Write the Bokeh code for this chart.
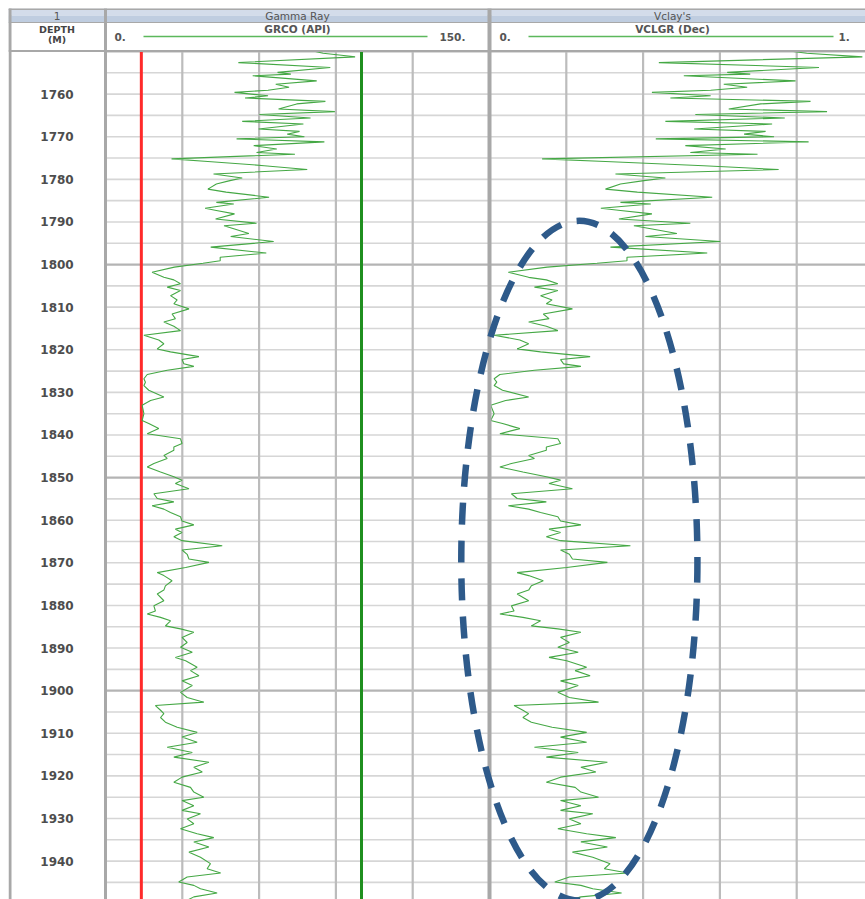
from bokeh.plotting import figure
from bokeh.models import Range1d
from bokeh.embed import file_html
from bokeh.resources import INLINE
from bokeh.core.properties import value

# ---------------- data ----------------
depth_m = [
    1750.0, 1750.4, 1751.25, 1752.6, 1753.75, 1754.9, 1755.3, 1755.7, 1756.9, 1757.7,
    1758.4, 1759.1, 1759.6, 1760.4, 1760.9, 1761.7, 1762.3, 1763.5, 1764.1, 1764.8,
    1765.6, 1766.4, 1767.0, 1768.2, 1768.75, 1769.4, 1770.0, 1770.5, 1771.2, 1772.1,
    1772.9, 1773.7, 1774.1, 1775.2, 1775.8, 1776.8, 1777.7, 1778.75, 1779.7, 1780.3,
    1781.1, 1782.3, 1783.0, 1784.2, 1785.4, 1785.8, 1786.8, 1787.3, 1788.1, 1789.3,
    1790.3, 1790.9, 1791.6, 1792.7, 1793.4, 1794.6, 1795.9, 1797.3, 1798.3, 1799.1,
    1799.7, 1800.6, 1801.8,
    1803.0, 1803.6, 1804.5, 1805.3, 1806.1, 1807.3, 1808.3, 1809.2, 1810.4, 1811.6,
    1812.7, 1813.5, 1814.5, 1815.5, 1816.6, 1817.7, 1818.6, 1819.8, 1820.5, 1821.6,
    1822.3, 1823.3, 1823.9, 1824.8, 1825.8, 1826.8, 1827.6, 1828.4, 1829.5, 1831.1,
    1831.9, 1833.0, 1835.0, 1836.6, 1837.3, 1838.5, 1839.7, 1840.9, 1842.0, 1842.8,
    1843.6, 1844.8, 1845.5, 1846.7, 1847.5, 1848.7, 1849.8, 1850.6, 1851.4, 1852.6,
    1853.8, 1854.9, 1855.7,
    1856.6, 1857.4, 1858.2, 1859.2, 1860.2, 1861.1, 1862.1, 1862.9, 1863.9, 1864.8,
    1866.0, 1867.0, 1868.0, 1869.1, 1869.9, 1871.1, 1872.3, 1873.0, 1874.2, 1875.4,
    1876.4, 1877.3, 1878.9, 1880.1, 1881.3, 1882.0, 1882.8, 1883.6, 1884.8, 1885.5,
    1886.3, 1887.5, 1888.7, 1889.8, 1891.0, 1892.2, 1893.0, 1894.5, 1895.3, 1896.5,
    1897.7, 1898.8, 1900.4, 1901.6, 1902.7, 1903.5, 1904.6,
    1905.4, 1906.3, 1907.4, 1908.6, 1909.8, 1910.9, 1912.1, 1913.3, 1914.5, 1915.6,
    1916.8, 1918.0, 1919.1, 1920.3, 1921.5, 1922.7, 1923.8, 1925.0, 1925.8, 1927.0,
    1928.1, 1928.9, 1930.1, 1931.25, 1932.4, 1933.6, 1934.5, 1935.5, 1936.7, 1937.9,
    1939.1, 1940.6, 1941.8, 1942.8, 1943.75, 1944.9, 1945.7, 1946.5, 1947.5, 1948.4,
    1949.2,
]

grco_api = [
    82.0, 85.0, 97.5, 51.9, 87.8, 67.2, 72.4, 57.5, 82.5, 66.5,
    71.7, 63.5, 50.4, 63.5, 54.5, 85.9, 74.7, 67.6, 89.6, 60.1,
    80.1, 53.4, 77.3, 59.8, 75.8, 71.0, 77.7, 51.2, 85.5, 57.9,
    66.9, 59.0, 74.0, 25.8, 40.0, 62.0, 78.8, 42.2, 53.4, 48.6,
    43.3, 40.0, 47.1, 63.9, 43.3, 50.1, 38.9, 43.3, 50.4, 43.0,
    59.0, 46.3, 50.1, 56.0, 48.9, 65.7, 41.1, 62.8, 44.8, 44.8,
    38.1, 26.9, 18.2,
    22.8, 26.7, 29.3, 24.1, 29.3, 25.4, 28.0, 26.7, 32.6, 26.0,
    27.3, 22.8, 26.7, 29.3, 15.0, 20.8, 22.8, 20.2, 25.4, 36.5,
    29.9, 30.6, 34.5, 24.1, 16.3, 15.0, 15.6, 15.0, 16.9, 22.8,
    17.6, 14.3, 15.0, 14.3, 16.9, 20.8, 16.3, 29.3, 29.9, 26.7,
    26.7, 22.8, 24.1, 18.9, 16.3, 21.5, 26.7, 29.9, 27.3, 32.6,
    18.9, 20.2, 26.7,
    18.2, 22.8, 25.4, 29.3, 29.9, 34.5, 27.3, 29.9, 26.7, 29.9,
    45.6, 29.9, 31.9, 32.6, 40.4, 31.3, 20.2, 22.8, 26.0, 23.4,
    22.8, 20.2, 22.8, 18.9, 19.5, 16.3, 21.5, 25.4, 23.4, 29.3,
    34.5, 29.9, 31.9, 29.3, 33.9, 27.3, 31.3, 35.8, 33.2, 36.5,
    29.9, 33.9, 29.3, 31.9, 38.4, 19.5, 21.5,
    22.8, 21.5, 23.4, 28.0, 35.8, 29.9, 35.8, 24.1, 33.9, 26.7,
    40.4, 34.5, 37.8, 29.9, 26.7, 33.2, 34.5, 38.4, 29.9, 34.5,
    29.9, 37.1, 31.9, 34.5, 29.3, 35.8, 42.3, 34.5, 40.4, 32.6,
    37.1, 41.0, 39.7, 45.0, 31.9, 28.6, 34.5, 37.1, 43.6, 34.5,
    31.9,
]

vclgr_dec = [
    0.791, 0.826, 0.971, 0.441, 0.858, 0.619, 0.679, 0.506, 0.797, 0.610,
    0.671, 0.576, 0.423, 0.576, 0.471, 0.836, 0.706, 0.623, 0.879, 0.536,
    0.769, 0.458, 0.736, 0.533, 0.719, 0.663, 0.741, 0.433, 0.831, 0.510,
    0.615, 0.523, 0.698, 0.137, 0.302, 0.558, 0.753, 0.328, 0.458, 0.402,
    0.341, 0.302, 0.385, 0.580, 0.341, 0.420, 0.290, 0.341, 0.423, 0.337,
    0.523, 0.376, 0.420, 0.488, 0.406, 0.601, 0.315, 0.567, 0.358, 0.358,
    0.280, 0.150, 0.049,
    0.102, 0.148, 0.178, 0.117, 0.178, 0.133, 0.163, 0.148, 0.216, 0.140,
    0.155, 0.102, 0.148, 0.178, 0.012, 0.079, 0.102, 0.072, 0.133, 0.262,
    0.185, 0.193, 0.238, 0.117, 0.027, 0.012, 0.019, 0.012, 0.034, 0.102,
    0.042, 0.003, 0.012, 0.003, 0.034, 0.079, 0.027, 0.178, 0.185, 0.148,
    0.148, 0.102, 0.117, 0.057, 0.027, 0.087, 0.148, 0.185, 0.155, 0.216,
    0.057, 0.072, 0.148,
    0.049, 0.102, 0.133, 0.178, 0.185, 0.238, 0.155, 0.185, 0.148, 0.185,
    0.367, 0.185, 0.208, 0.216, 0.307, 0.201, 0.072, 0.102, 0.140, 0.109,
    0.102, 0.072, 0.102, 0.057, 0.064, 0.027, 0.087, 0.133, 0.109, 0.178,
    0.238, 0.185, 0.208, 0.178, 0.231, 0.155, 0.201, 0.253, 0.223, 0.262,
    0.185, 0.231, 0.178, 0.208, 0.284, 0.064, 0.087,
    0.102, 0.087, 0.109, 0.163, 0.253, 0.185, 0.253, 0.117, 0.231, 0.148,
    0.307, 0.238, 0.277, 0.185, 0.148, 0.223, 0.238, 0.284, 0.185, 0.238,
    0.185, 0.269, 0.208, 0.238, 0.178, 0.253, 0.329, 0.238, 0.307, 0.216,
    0.269, 0.314, 0.299, 0.360, 0.208, 0.170, 0.238, 0.269, 0.344, 0.238,
    0.208,
]

depth_labels = [1760, 1770, 1780, 1790, 1800, 1810, 1820, 1830, 1840, 1850,
                1860, 1870, 1880, 1890, 1900, 1910, 1920, 1930, 1940]
track_titles = ["1", "Gamma Ray", "Vclay's"]
curve_names = ["GRCO (API)", "VCLGR (Dec)"]
gr_scale = [0, 150]
vcl_scale = [0, 1]
gr_grid = [30, 60, 90, 120]
vcl_grid = [0.2, 0.4, 0.6, 0.8]
gr_clean = 14     # red cut-off line
gr_shale = 100    # green cut-off line
# highlighted interval (dashed ellipse), in VCLGR / depth units
hl_center_vcl = 0.234
hl_width_vcl = 0.615
hl_center_depth = 1869.5
hl_height_m = 159.6

# ---------------- layout ----------------
MARGIN = 8
FW, FH = 857, 891      # frame size (px)
HDR1 = 14              # title row height (px)
HDR = 43               # full header height (px)
DEPTH_W = 97
TRACK_W = 384
PX_PER_M = 4.261
TOP_DEPTH = 1750

depth_top_frame = TOP_DEPTH - HDR / PX_PER_M
depth_bottom = TOP_DEPTH + (FH - HDR) / PX_PER_M

gr_left = DEPTH_W
vc_left = DEPTH_W + TRACK_W


def track_range(lo, hi, left_px):
    span = hi - lo
    start = lo - left_px / TRACK_W * span
    return Range1d(start, start + FW / TRACK_W * span)


p = figure(width=FW + MARGIN, height=FH + MARGIN, output_backend="svg",
           toolbar_location=None,
           x_range=Range1d(0, FW), y_range=Range1d(depth_bottom, depth_top_frame),
           x_axis_location=None, y_axis_location=None,
           min_border_left=MARGIN, min_border_top=MARGIN,
           min_border_right=0, min_border_bottom=0,
           outline_line_color=None, background_fill_color="white",
           border_fill_color="white")
p.grid.visible = False
p.extra_y_ranges = {"px": Range1d(FH, 0)}
p.extra_x_ranges = {"gr": track_range(gr_scale[0], gr_scale[1], gr_left),
                    "vcl": track_range(vcl_scale[0], vcl_scale[1], vc_left)}

# horizontal depth grid in the curve tracks
grid_depths = list(range(1750, 1950, 5))
minor = [d for d in grid_depths if d % 50]
major = [d for d in grid_depths if d % 50 == 0]
p.segment(x0=[gr_left] * len(minor), x1=[FW] * len(minor), y0=minor, y1=minor,
          line_color="#d6d6d6", line_width=1.6)
p.segment(x0=[gr_left] * len(major), x1=[FW] * len(major), y0=major, y1=major,
          line_color="#b4b4b4", line_width=2.2)

# vertical grid lines
n = len(gr_grid)
p.segment(x0=gr_grid, x1=gr_grid, y0=[TOP_DEPTH] * n, y1=[depth_bottom] * n,
          x_range_name="gr", line_color="#bcbcbc", line_width=2.2)
n = len(vcl_grid)
p.segment(x0=vcl_grid, x1=vcl_grid, y0=[TOP_DEPTH] * n, y1=[depth_bottom] * n,
          x_range_name="vcl", line_color="#bcbcbc", line_width=2.2)

# cut-off lines
p.segment(x0=[gr_clean], x1=[gr_clean], y0=[TOP_DEPTH], y1=[depth_bottom],
          x_range_name="gr", line_color="#ff2a2a", line_width=3)
p.segment(x0=[gr_shale], x1=[gr_shale], y0=[TOP_DEPTH], y1=[depth_bottom],
          x_range_name="gr", line_color="#1f8f1f", line_width=3)

# curves
p.line(grco_api, depth_m, x_range_name="gr", line_color="#45a845", line_width=1.1)
p.line(vclgr_dec, depth_m, x_range_name="vcl", line_color="#45a845", line_width=1.1)

# track borders
p.segment(x0=[1.5, gr_left, vc_left], x1=[1.5, gr_left, vc_left],
          y0=[0, 0, 0], y1=[FH, FH, FH], y_range_name="px",
          line_color="#a8a8a8", line_width=[3, 3, 4])

# header
p.quad(left=[0], right=[FW], top=[0], bottom=[HDR1 / 2], y_range_name="px",
       fill_color="#d3dcea", line_color=None)
p.quad(left=[0], right=[FW], top=[HDR1 / 2], bottom=[HDR1], y_range_name="px",
       fill_color="#bfcde0", line_color=None)
p.quad(left=[0], right=[FW], top=[HDR1], bottom=[HDR], y_range_name="px",
       fill_color="white", line_color=None)
p.segment(x0=[0, 0, 0], x1=[FW, FW, FW], y0=[0.5, HDR1, HDR - 0.5], y1=[0.5, HDR1, HDR - 0.5],
          y_range_name="px", line_color="#a8a8a8", line_width=[2, 1.2, 2])
p.segment(x0=[1.5, gr_left, vc_left], x1=[1.5, gr_left, vc_left],
          y0=[0, 0, 0], y1=[HDR, HDR, HDR], y_range_name="px",
          line_color="#a8a8a8", line_width=[3, 3, 4])

font = value("DejaVu Sans")
title_x = [DEPTH_W / 2, gr_left + TRACK_W / 2, vc_left + TRACK_W / 2 - 9]
p.text(x=title_x, y=[HDR1 / 2 + 0.5] * 3, text=track_titles, y_range_name="px",
       text_align="center", text_baseline="middle", text_font=font,
       text_font_size="10.5px", text_color="#555555")

p.text(x=[DEPTH_W / 2, DEPTH_W / 2], y=[21, 31], text=["DEPTH", "(M)"], y_range_name="px",
       text_align="center", text_baseline="middle", text_font=font,
       text_font_size="9.5px", text_font_style="bold", text_color="#444444")

# curve header lines and scales
p.segment(x0=[gr_left + 38, vc_left + 39], x1=[gr_left + 322, vc_left + 344],
          y0=[28, 28], y1=[28, 28], y_range_name="px", line_color="#5cb85c", line_width=1.5)
p.text(x=[gr_left + TRACK_W / 2, vc_left + TRACK_W / 2 - 9], y=[20.5, 20.5], text=curve_names,
       y_range_name="px", text_align="center", text_baseline="middle", text_font=font,
       text_font_size="10.5px", text_font_style="bold", text_color="#555555")
p.text(x=[gr_left + 9, vc_left + 10], y=[28.5, 28.5],
       text=[f"{gr_scale[0]}.", f"{vcl_scale[0]}."], y_range_name="px",
       text_align="left", text_baseline="middle", text_font=font,
       text_font_size="10.5px", text_font_style="bold", text_color="#555555")
p.text(x=[gr_left + 334, vc_left + 349], y=[28.5, 28.5],
       text=[f"{gr_scale[1]}.", f"{vcl_scale[1]}."], y_range_name="px",
       text_align="left", text_baseline="middle", text_font=font,
       text_font_size="10.5px", text_font_style="bold", text_color="#555555")

# depth labels
p.text(x=[DEPTH_W / 2] * len(depth_labels), y=depth_labels,
       text=[str(d) for d in depth_labels], text_align="center", text_baseline="middle",
       text_font=font, text_font_size="12px", text_font_style="bold", text_color="#4d4d4d")

# highlighted interval
p.ellipse(x=[hl_center_vcl], y=[hl_center_depth], width=[hl_width_vcl], height=[hl_height_m],
          x_range_name="vcl", fill_color=None, line_color="#2e5a8a", line_width=6.5,
          line_dash="22 16")

open("out.html", "w").write(file_html(p, INLINE))
